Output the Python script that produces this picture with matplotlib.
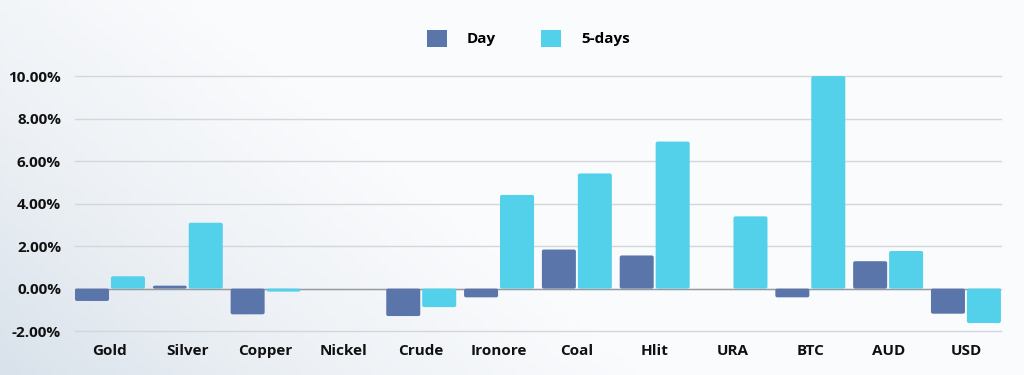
import matplotlib.pyplot as plt
import numpy as np
from matplotlib.colors import LinearSegmentedColormap
from matplotlib.patches import FancyBboxPatch, Patch
from matplotlib.ticker import FuncFormatter

# data
categories = ["Gold", "Silver", "Copper", "Nickel", "Crude", "Ironore",
              "Coal", "Hlit", "URA", "BTC", "AUD", "USD"]
day = [-0.58, 0.14, -1.21, 0.0, -1.29, -0.41, 1.84, 1.56, 0.0, -0.41, 1.29, -1.18]
five_days = [0.58, 3.10, -0.14, 0.0, -0.87, 4.41, 5.42, 6.92, 3.40, 10.0, 1.77, -1.62]

day_color = "#5a75aa"
five_color = "#53d0ea"

plt.rcParams["font.family"] = ["Open Sans", "DejaVu Sans"]

fig = plt.figure(figsize=(10.24, 3.75), dpi=100)

# soft background gradient, darker toward the bottom left
bg = fig.add_axes([0, 0, 1, 1], zorder=-10)
gx = np.linspace(0, 1, 256)
gy = np.linspace(0, 1, 64)
X, Y = np.meshgrid(gx, gy)
grad = np.clip(X * 1.6 + (1 - Y) * 0.7, 0, 1)
cmap = LinearSegmentedColormap.from_list("bg", ["#d9e2eb", "#edf1f5", "#fafbfd"])
bg.imshow(grad, cmap=cmap, aspect="auto", extent=[0, 1, 0, 1], origin="upper")
bg.axis("off")

ax = fig.add_axes([0.0732, 0.117, 0.9043, 0.68])
ax.patch.set_alpha(0)

x = np.arange(len(categories))
w = 0.437
off = 0.231
bars1 = ax.bar(x - off, day, w, color=day_color, zorder=3)
bars2 = ax.bar(x + off, five_days, w, color=five_color, zorder=3)

# swap the plain rectangles for ones with slightly rounded corners
for bars in (bars1, bars2):
    for r in bars:
        r.set_visible(False)
        h = r.get_height()
        if h == 0:
            continue
        y0 = r.get_y()
        if h < 0:
            y0, h = y0 + h, -h
        p = FancyBboxPatch((r.get_x(), y0), r.get_width(), h,
                           boxstyle="round,pad=0,rounding_size=0.025",
                           mutation_aspect=3.5, facecolor=r.get_facecolor(),
                           edgecolor="none", zorder=3)
        ax.add_patch(p)

ax.set_xlim(-0.45, 11.45)
ax.set_ylim(-2, 10)
ax.set_yticks(np.arange(-2, 10.1, 2))
ax.yaxis.set_major_formatter(FuncFormatter(lambda v, p: f"{v:.2f}%"))
ax.set_xticks(x)
ax.set_xticklabels(categories)

ax.grid(axis="y", color="#d3d6da", linewidth=1.0, zorder=0)
for gl in ax.get_ygridlines():
    gl.set_clip_on(False)
ax.axhline(0, color="#96999e", linewidth=1.0, zorder=2)
for s in ax.spines.values():
    s.set_visible(False)
ax.tick_params(length=0, labelsize=11)
ax.tick_params(axis="y", pad=10)
ax.tick_params(axis="x", pad=9)
for lbl in ax.get_xticklabels() + ax.get_yticklabels():
    lbl.set_fontweight("bold")
    lbl.set_color("#111111")

handles = [Patch(facecolor=day_color, label="Day"),
           Patch(facecolor=five_color, label="5-days")]
fig.legend(handles=handles, loc="center", bbox_to_anchor=(0.516, 0.898), ncol=2,
           frameon=False, handlelength=1.3, handleheight=1.3, columnspacing=3.0,
           handletextpad=1.3, prop={"weight": "bold", "size": 11})

fig.savefig("out.png", dpi=100)
